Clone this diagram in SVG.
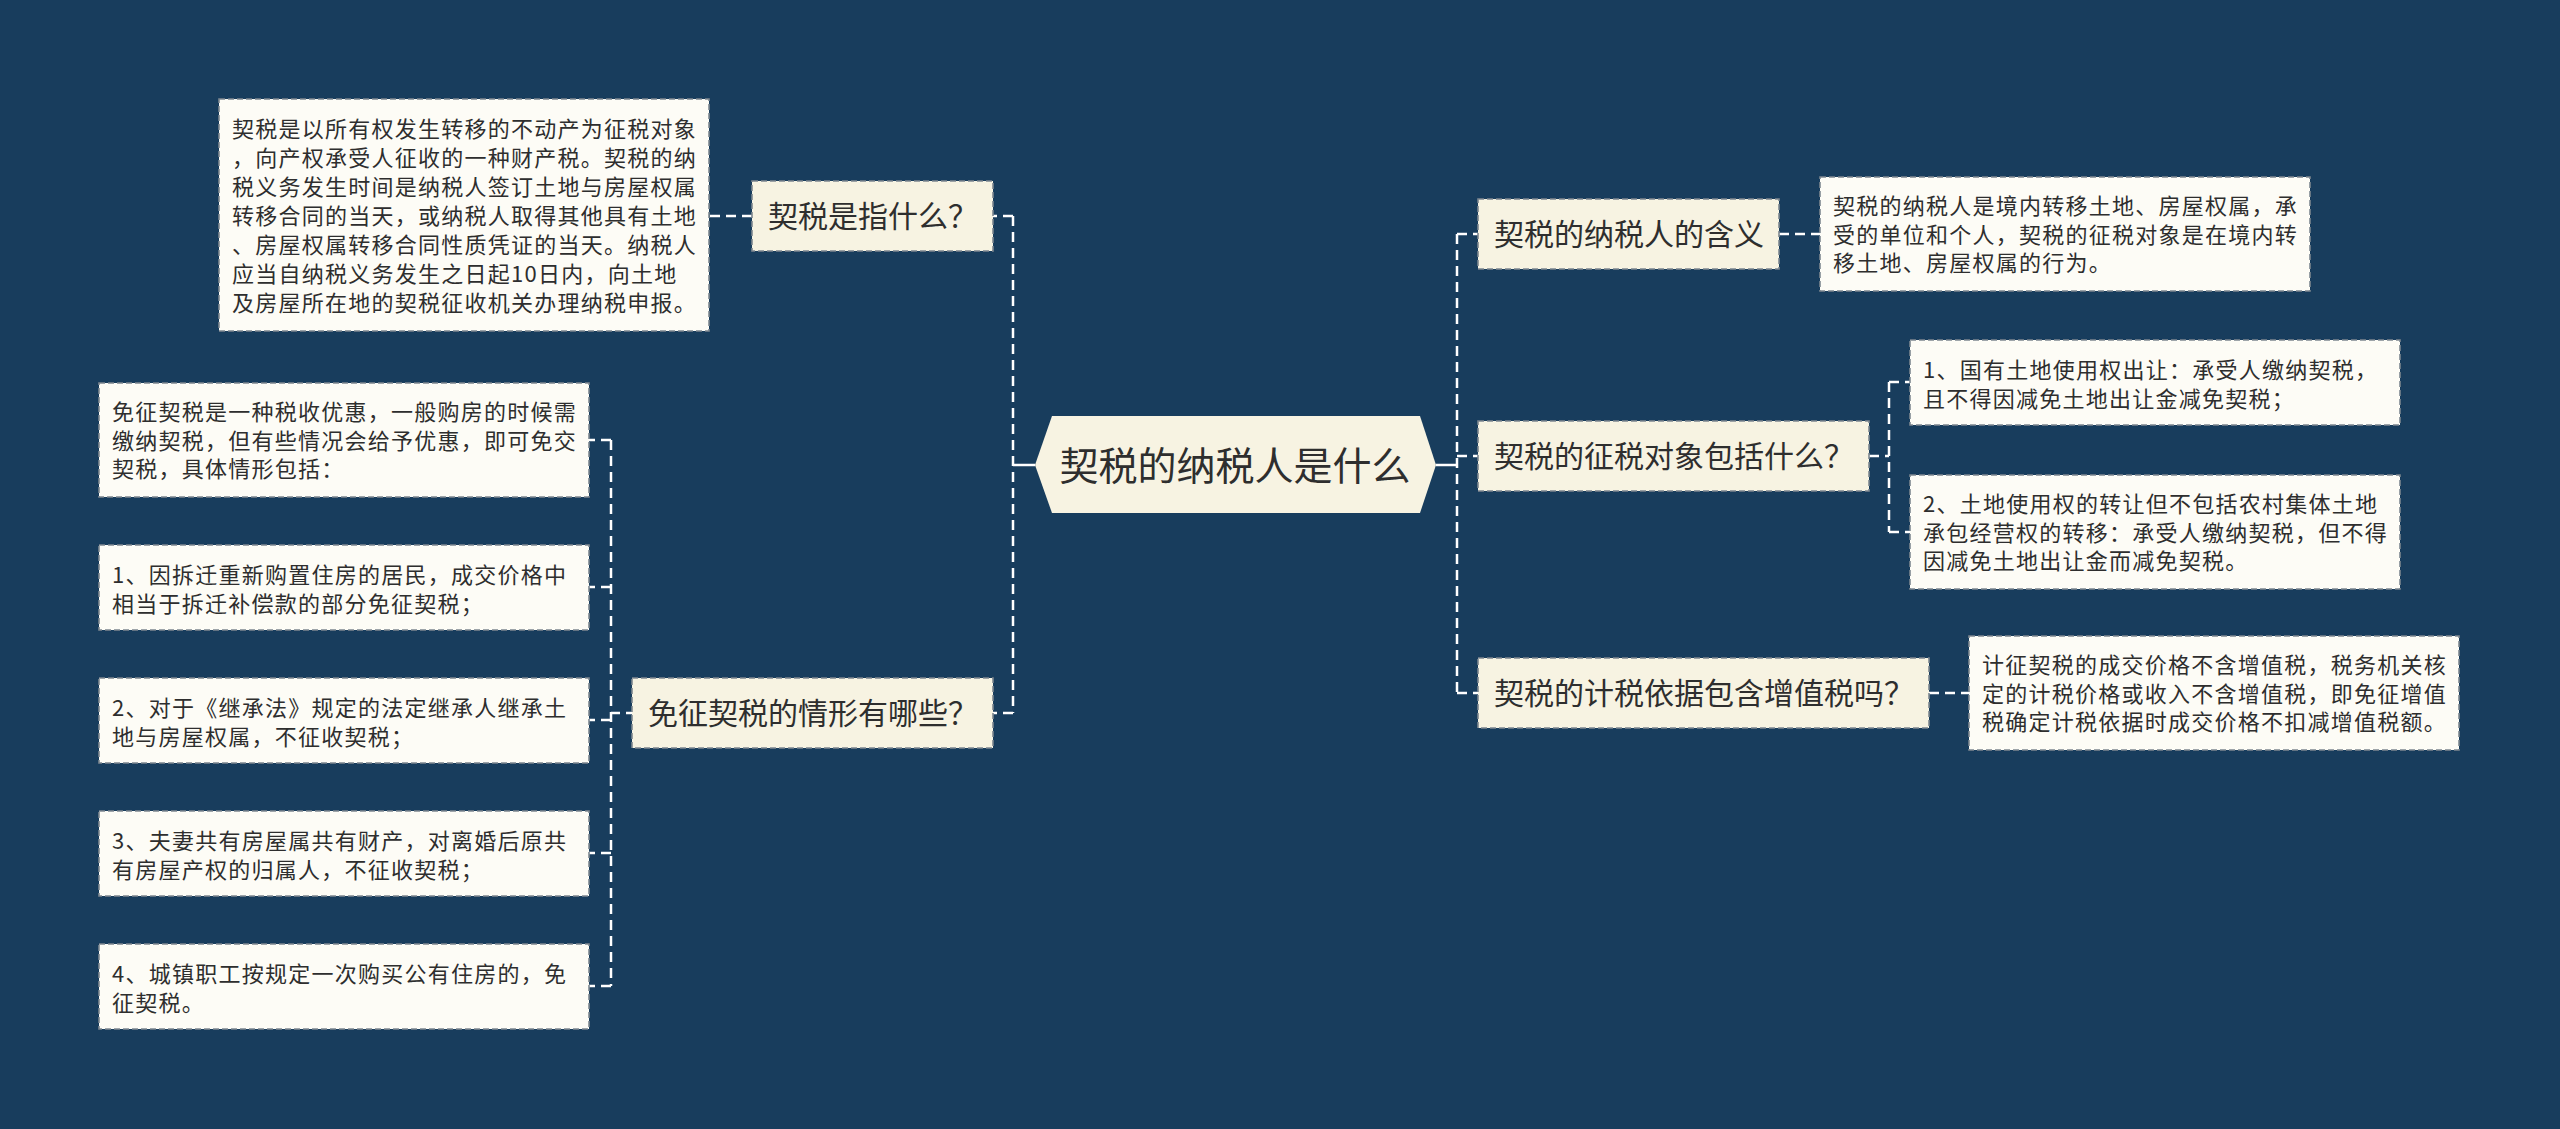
<svg xmlns="http://www.w3.org/2000/svg" width="2560" height="1129" viewBox="0 0 2560 1129">
<style>
.bg{fill:#183d5d}
.topic{fill:#f7f3e2;stroke:#7d8790;stroke-width:1.6;stroke-dasharray:6 3}
.leaf{fill:#fdfcf6;stroke:#7d8790;stroke-width:1.6;stroke-dasharray:6 3}
.center{fill:#f7f3e2}
.tt{font-family:"Noto Sans CJK SC","Noto Sans",sans-serif;font-size:30px;fill:#2e2e2e}
.lt{font-family:"Noto Sans CJK SC","Noto Sans",sans-serif;font-size:22px;letter-spacing:1.25px;fill:#2e2e2e}
.ct{font-family:"Noto Sans CJK SC","Noto Sans",sans-serif;font-size:39px;fill:#2e2e2e}
.dash{fill:none;stroke:#ffffff;stroke-width:2.5;stroke-dasharray:10 6}
.solid{fill:none;stroke:#ffffff;stroke-width:2.5}
</style>
<rect class="bg" x="0" y="0" width="2560" height="1129"/>

<g id="connectors">
  <path class="solid" d="M1035 465 H1013"/>
  <path class="dash" d="M1013 216 V713"/>
  <path class="dash" d="M1013 216 H993 M1013 713 H993"/>
  <path class="dash" d="M752 216 H709"/>
  <path class="dash" d="M636 713 H611"/>
  <path class="dash" d="M611 440 V986"/>
  <path class="dash" d="M611 440 H589 M611 587 H589 M611 720 H589 M611 853 H589 M611 986 H589"/>
  <path class="solid" d="M1436 465 H1457"/>
  <path class="dash" d="M1457 234 V693"/>
  <path class="dash" d="M1457 234 H1478 M1457 456 H1478 M1457 693 H1478"/>
  <path class="dash" d="M1779 234 H1820"/>
  <path class="dash" d="M1869 456 H1889"/>
  <path class="dash" d="M1889 382 V532"/>
  <path class="dash" d="M1889 382 H1910 M1889 532 H1910"/>
  <path class="dash" d="M1929 693 H1969"/>
</g>

<g id="center">
  <polygon class="center" points="1035,465 1052,416 1420,416 1436,465 1420,513 1052,513"/>
  <text class="ct" x="1235" y="480" text-anchor="middle">契税的纳税人是什么</text>
</g>

<g id="topic-l1">
  <rect class="topic" x="752" y="181" width="241" height="70"/>
  <text class="tt" x="768" y="227">契税是指什么？</text>
</g>
<g id="leaf-l0">
  <rect class="leaf" x="219" y="99" width="490" height="232"/>
  <text class="lt" x="232" y="137">契税是以所有权发生转移的不动产为征税对象</text>
  <text class="lt" x="232" y="166">，向产权承受人征收的一种财产税。契税的纳</text>
  <text class="lt" x="232" y="195">税义务发生时间是纳税人签订土地与房屋权属</text>
  <text class="lt" x="232" y="224">转移合同的当天，或纳税人取得其他具有土地</text>
  <text class="lt" x="232" y="253">、房屋权属转移合同性质凭证的当天。纳税人</text>
  <text class="lt" x="232" y="282">应当自纳税义务发生之日起10日内，向土地</text>
  <text class="lt" x="232" y="311">及房屋所在地的契税征收机关办理纳税申报。</text>
</g>

<g id="topic-l2">
  <rect class="topic" x="632" y="678" width="361" height="70"/>
  <text class="tt" x="648" y="724">免征契税的情形有哪些？</text>
</g>
<g id="leaf-l1">
  <rect class="leaf" x="99" y="383" width="490" height="114"/>
  <text class="lt" x="112" y="420">免征契税是一种税收优惠，一般购房的时候需</text>
  <text class="lt" x="112" y="448.5">缴纳契税，但有些情况会给予优惠，即可免交</text>
  <text class="lt" x="112" y="477">契税，具体情形包括：</text>
</g>
<g id="leaf-l2">
  <rect class="leaf" x="99" y="545" width="490" height="85"/>
  <text class="lt" x="112" y="583">1、因拆迁重新购置住房的居民，成交价格中</text>
  <text class="lt" x="112" y="611.5">相当于拆迁补偿款的部分免征契税；</text>
</g>
<g id="leaf-l3">
  <rect class="leaf" x="99" y="678" width="490" height="85"/>
  <text class="lt" x="112" y="716">2、对于《继承法》规定的法定继承人继承土</text>
  <text class="lt" x="112" y="744.5">地与房屋权属，不征收契税；</text>
</g>
<g id="leaf-l4">
  <rect class="leaf" x="99" y="811" width="490" height="85"/>
  <text class="lt" x="112" y="849">3、夫妻共有房屋属共有财产，对离婚后原共</text>
  <text class="lt" x="112" y="877.5">有房屋产权的归属人，不征收契税；</text>
</g>
<g id="leaf-l5">
  <rect class="leaf" x="99" y="944" width="490" height="85"/>
  <text class="lt" x="112" y="982">4、城镇职工按规定一次购买公有住房的，免</text>
  <text class="lt" x="112" y="1010.5">征契税。</text>
</g>

<g id="topic-r1">
  <rect class="topic" x="1478" y="199" width="301" height="70"/>
  <text class="tt" x="1494" y="245">契税的纳税人的含义</text>
</g>
<g id="leaf-r1">
  <rect class="leaf" x="1820" y="177" width="490" height="114"/>
  <text class="lt" x="1833" y="214">契税的纳税人是境内转移土地、房屋权属，承</text>
  <text class="lt" x="1833" y="242.5">受的单位和个人，契税的征税对象是在境内转</text>
  <text class="lt" x="1833" y="271">移土地、房屋权属的行为。</text>
</g>

<g id="topic-r2">
  <rect class="topic" x="1478" y="421" width="391" height="70"/>
  <text class="tt" x="1494" y="467">契税的征税对象包括什么？</text>
</g>
<g id="leaf-r2">
  <rect class="leaf" x="1910" y="340" width="490" height="85"/>
  <text class="lt" x="1923" y="378">1、国有土地使用权出让：承受人缴纳契税，</text>
  <text class="lt" x="1923" y="406.5">且不得因减免土地出让金减免契税；</text>
</g>
<g id="leaf-r3">
  <rect class="leaf" x="1910" y="475" width="490" height="114"/>
  <text class="lt" x="1923" y="512">2、土地使用权的转让但不包括农村集体土地</text>
  <text class="lt" x="1923" y="540.5">承包经营权的转移：承受人缴纳契税，但不得</text>
  <text class="lt" x="1923" y="569">因减免土地出让金而减免契税。</text>
</g>

<g id="topic-r3">
  <rect class="topic" x="1478" y="658" width="451" height="70"/>
  <text class="tt" x="1494" y="704">契税的计税依据包含增值税吗？</text>
</g>
<g id="leaf-r4">
  <rect class="leaf" x="1969" y="636" width="490" height="114"/>
  <text class="lt" x="1982" y="673">计征契税的成交价格不含增值税，税务机关核</text>
  <text class="lt" x="1982" y="701.5">定的计税价格或收入不含增值税，即免征增值</text>
  <text class="lt" x="1982" y="730">税确定计税依据时成交价格不扣减增值税额。</text>
</g>
</svg>
